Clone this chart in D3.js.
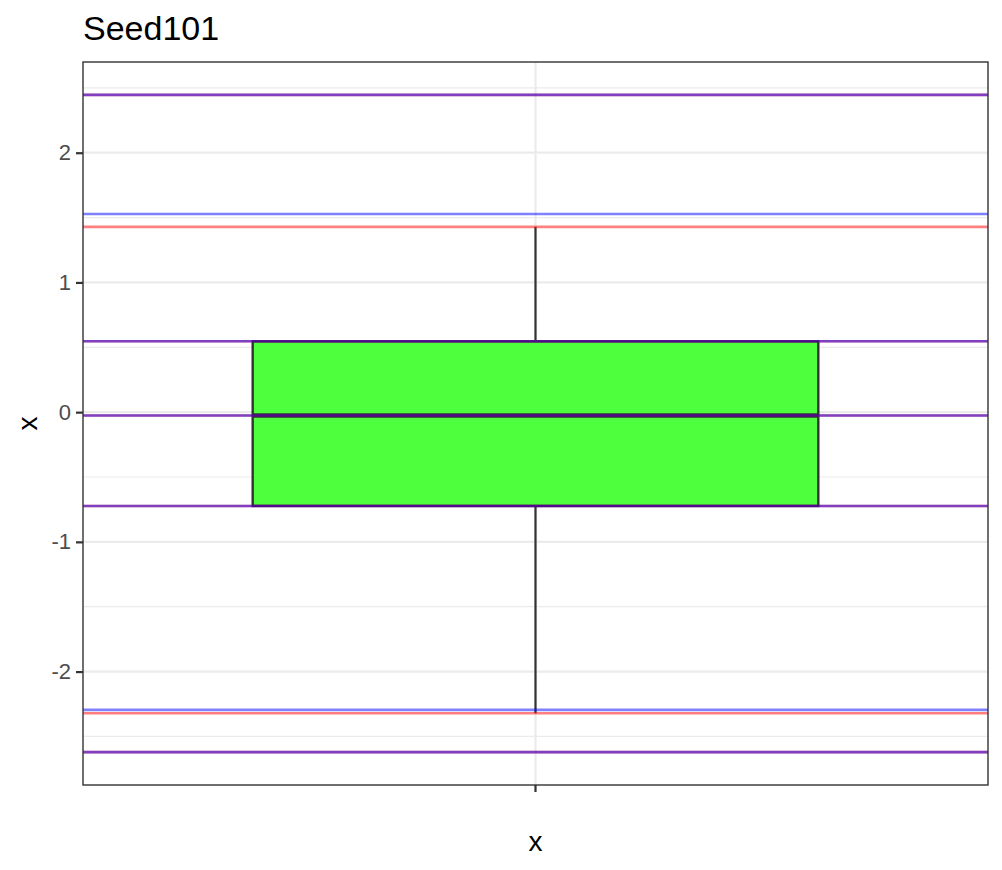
<!DOCTYPE html>
<html>
<head>
<meta charset="utf-8">
<script src="https://cdn.jsdelivr.net/npm/d3@7"></script>
<style>
  body { margin: 0; background: #fff; }
  text { font-family: "Liberation Sans", Arial, sans-serif; }
</style>
</head>
<body>
<div id="chart"></div>
<script>
// Boxplot stats for the single category
const categories = ["x"];
const boxStats = [{ cat: "x", lower: -2.321, q1: -0.723, median: -0.026, q3: 0.546, upper: 1.428 }];

// Reference lines (red and blue, half transparent)
const redLines = [2.446, 1.428, 0.546, -0.026, -0.723, -2.321, -2.621];
const blueLines = [2.446, 1.528, 0.546, -0.026, -0.723, -2.295, -2.621];

const yTicks = [-2, -1, 0, 1, 2];
const yMinor = [-2.5, -1.5, -0.5, 0.5, 1.5, 2.5];

const width = 1002;
const height = 870;
const margin = { top: 62, right: 14, bottom: 85, left: 83 };
const innerW = width - margin.left - margin.right;
const innerH = height - margin.top - margin.bottom;

const svg = d3.select("#chart")
    .append("svg")
    .attr("width", width)
    .attr("height", height);

// y domain: data range plus 5% each side, like ggplot
const all = redLines.concat(blueLines);
const [lo, hi] = d3.extent(all);
const pad = (hi - lo) * 0.05;

const y = d3.scaleLinear()
    .domain([lo - pad, hi + pad])
    .range([innerH, 0]);

// discrete axis expands 0.6 units each side -> band = one unit
const x = d3.scaleBand()
    .domain(categories)
    .range([0, innerW])
    .paddingOuter(0.1)
    .paddingInner(0);

const boxWidth = 0.75; // fraction of one unit

const g = svg.append("g")
    .attr("transform", `translate(${margin.left},${margin.top})`);

// Minor gridlines
g.append("g")
    .selectAll("line")
    .data(yMinor.filter(v => v > y.domain()[0] && v < y.domain()[1]))
    .join("line")
    .attr("x1", 0).attr("x2", innerW)
    .attr("y1", d => y(d)).attr("y2", d => y(d))
    .attr("stroke", "#ebebeb")
    .attr("stroke-width", 1.2);

// Major gridlines
g.append("g")
    .selectAll("line")
    .data(yTicks)
    .join("line")
    .attr("x1", 0).attr("x2", innerW)
    .attr("y1", d => y(d)).attr("y2", d => y(d))
    .attr("stroke", "#ebebeb")
    .attr("stroke-width", 2.2);

g.append("g")
    .selectAll("line")
    .data(categories)
    .join("line")
    .attr("x1", d => x(d) + x.bandwidth() / 2)
    .attr("x2", d => x(d) + x.bandwidth() / 2)
    .attr("y1", 0).attr("y2", innerH)
    .attr("stroke", "#ebebeb")
    .attr("stroke-width", 2.2);

// Boxplot
const box = g.append("g")
    .selectAll("g")
    .data(boxStats)
    .join("g");

const cx = d => x(d.cat) + x.bandwidth() / 2;
const bw = x.bandwidth() * boxWidth;

box.append("line")
    .attr("x1", cx).attr("x2", cx)
    .attr("y1", d => y(d.upper)).attr("y2", d => y(d.q3))
    .attr("stroke", "#333")
    .attr("stroke-width", 2.2);

box.append("line")
    .attr("x1", cx).attr("x2", cx)
    .attr("y1", d => y(d.q1)).attr("y2", d => y(d.lower))
    .attr("stroke", "#333")
    .attr("stroke-width", 2.2);

box.append("rect")
    .attr("x", d => cx(d) - bw / 2)
    .attr("width", bw)
    .attr("y", d => y(d.q3))
    .attr("height", d => y(d.q1) - y(d.q3))
    .attr("fill", "#4dff3c")
    .attr("stroke", "#333")
    .attr("stroke-width", 2.4);

box.append("line")
    .attr("x1", d => cx(d) - bw / 2).attr("x2", d => cx(d) + bw / 2)
    .attr("y1", d => y(d.median)).attr("y2", d => y(d.median))
    .attr("stroke", "#333")
    .attr("stroke-width", 4.5);

// Reference lines
g.append("g")
    .selectAll("line")
    .data(redLines)
    .join("line")
    .attr("x1", 0).attr("x2", innerW)
    .attr("y1", d => y(d)).attr("y2", d => y(d))
    .attr("stroke", "red")
    .attr("stroke-opacity", 0.5)
    .attr("stroke-width", 2.6);

g.append("g")
    .selectAll("line")
    .data(blueLines)
    .join("line")
    .attr("x1", 0).attr("x2", innerW)
    .attr("y1", d => y(d)).attr("y2", d => y(d))
    .attr("stroke", "blue")
    .attr("stroke-opacity", 0.5)
    .attr("stroke-width", 2.6);

// Panel border
g.append("rect")
    .attr("width", innerW)
    .attr("height", innerH)
    .attr("fill", "none")
    .attr("stroke", "#333")
    .attr("stroke-width", 1.4);

// Axes
const yAxis = g.append("g")
    .call(d3.axisLeft(y).tickValues(yTicks).tickSize(7).tickPadding(5).tickFormat(d3.format("d")));
yAxis.select(".domain").remove();
yAxis.selectAll(".tick line").attr("stroke", "#333").attr("stroke-width", 2.2);
yAxis.selectAll(".tick text")
    .attr("fill", "#4d4d4d")
    .attr("font-size", 22)
    .style("font-family", "Liberation Sans, Arial, sans-serif")
    .text(d => d < 0 ? "-" + Math.abs(d) : d);

const xAxis = g.append("g")
    .attr("transform", `translate(0,${innerH})`)
    .call(d3.axisBottom(x).tickSize(7).tickFormat(""));
xAxis.select(".domain").remove();
xAxis.selectAll(".tick line").attr("stroke", "#333").attr("stroke-width", 2.2);

// Titles
svg.append("text")
    .attr("x", margin.left)
    .attr("y", 40)
    .attr("font-size", 34)
    .attr("fill", "#000")
    .text("Seed101");

svg.append("text")
    .attr("x", margin.left + innerW / 2)
    .attr("y", 851)
    .attr("text-anchor", "middle")
    .attr("font-size", 28)
    .attr("fill", "#000")
    .text("x");

svg.append("text")
    .attr("transform", `translate(37,${margin.top + innerH / 2}) rotate(-90)`)
    .attr("text-anchor", "middle")
    .attr("font-size", 28)
    .attr("fill", "#000")
    .text("x");
</script>
</body>
</html>
